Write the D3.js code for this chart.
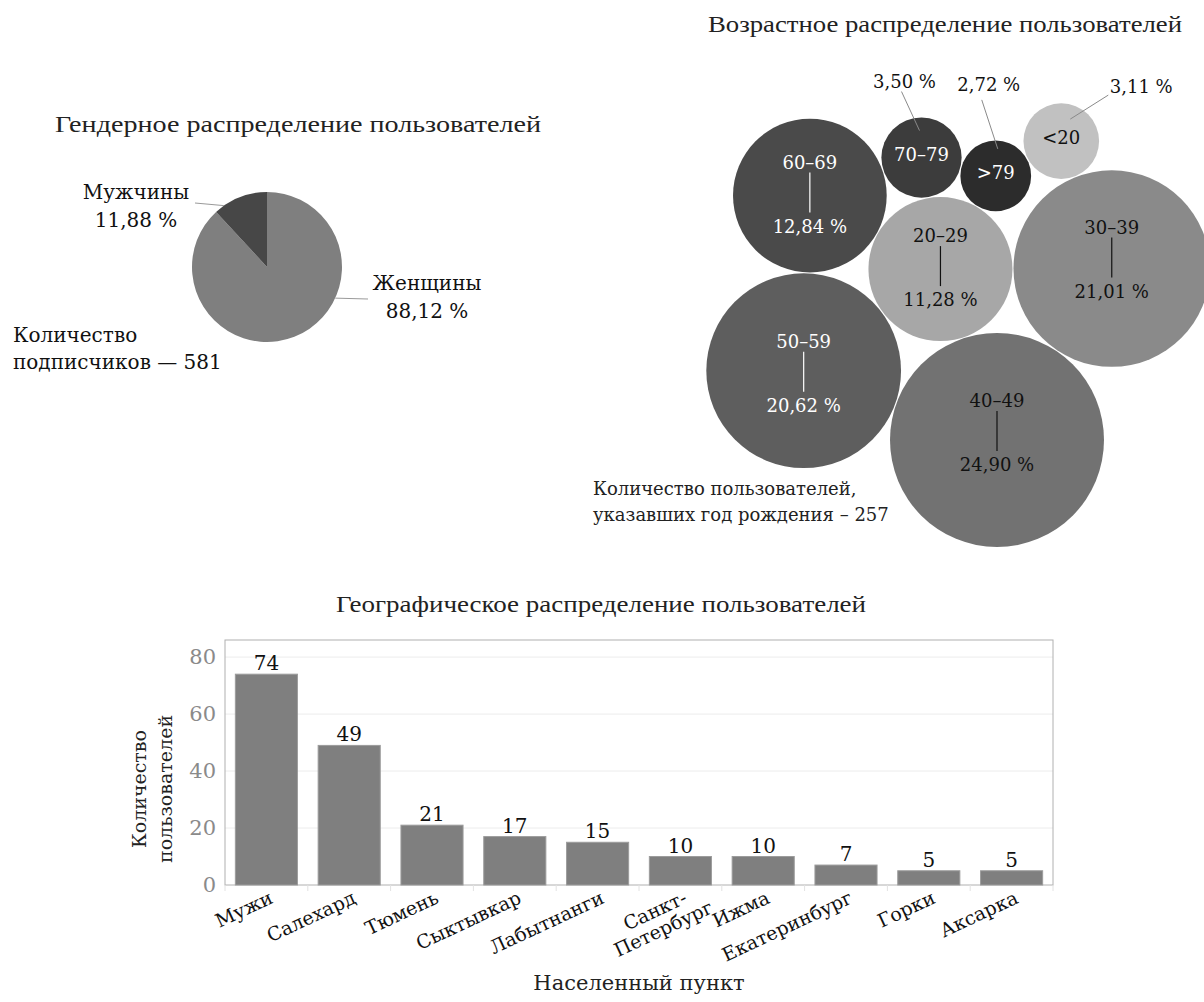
<!DOCTYPE html>
<html>
<head>
<meta charset="utf-8">
<script src="https://cdn.jsdelivr.net/npm/d3@7"></script>
<style>
  body { margin: 0; background: #fff; }
  svg { display: block; }
</style>
</head>
<body>
<svg id="chart" width="1204" height="1002"></svg>
<script>
// ---- data ----
const genderLabels = ["Женщины", "Мужчины"];
const genderShares = [88.12, 11.88];
const subscriberCount = 581;

const ageGroups = ["40–49", "30–39", "20–29", "50–59", "60–69", "70–79", ">79", "<20"];
const ageShares = [24.90, 21.01, 11.28, 20.62, 12.84, 3.50, 2.72, 3.11];
const ageRespondents = 257;

const cities = ["Мужи", "Салехард", "Тюмень", "Сыктывкар", "Лабытнанги", "Санкт-Петербург", "Ижма", "Екатеринбург", "Горки", "Аксарка"];
const cityUsers = [74, 49, 21, 17, 15, 10, 10, 7, 5, 5];
const yTicks = [0, 20, 40, 60, 80];

// ---- shared helpers ----
const ru = d3.formatLocale({ decimal: ",", thousands: "\u00a0", grouping: [3], currency: ["", " ₽"] });
const pct = v => ru.format(".2f")(v) + " %";
const SERIF = "'DejaVu Serif', Georgia, serif";
const TITLE = "'Liberation Serif', 'Times New Roman', serif";

const svg = d3.select("#chart");
svg.append("rect").attr("width", 1204).attr("height", 1002).attr("fill", "#fff");

function title(text, x, y, width) {
  svg.append("text")
    .attr("x", x).attr("y", y)
    .attr("font-family", TITLE).attr("font-size", 24).attr("fill", "#222")
    .attr("textLength", width).attr("lengthAdjust", "spacingAndGlyphs")
    .text(text);
}

// ================= gender pie =================
title("Гендерное распределение пользователей", 55, 132, 486);
{
  const cx = 267, cy = 267, r = 75;
  const g = svg.append("g").attr("transform", `translate(${cx},${cy})`);
  const pieData = d3.pie().sort(null)(genderShares);
  const arc = d3.arc().innerRadius(0).outerRadius(r);
  const fills = ["#7f7f7f", "#474747"];
  g.selectAll("path").data(pieData).join("path")
    .attr("d", arc).attr("fill", (d, i) => fills[i]);

  // callouts: where on the slice the leader meets the rim, leader end, label centre
  const callouts = [
    { rimAt: 0.361, leadTo: [101, 32], label: [160, 23] },
    { rimAt: 0.18, leadTo: [-72, -64], label: [-131, -68] }
  ];
  pieData.forEach((d, i) => {
    const c = callouts[i];
    const a = d.startAngle + c.rimAt * (d.endAngle - d.startAngle);
    const p = d3.pointRadial(a, r);
    g.append("line")
      .attr("x1", p[0]).attr("y1", p[1])
      .attr("x2", c.leadTo[0]).attr("y2", c.leadTo[1])
      .attr("stroke", "#9a9a9a").attr("stroke-width", 1);
    const t = g.append("text")
      .attr("font-family", SERIF).attr("font-size", 20).attr("fill", "#111")
      .attr("text-anchor", "middle");
    t.append("tspan").attr("x", c.label[0]).attr("y", c.label[1]).text(genderLabels[i]);
    t.append("tspan").attr("x", c.label[0]).attr("dy", 28).text(pct(genderShares[i]));
  });

  const note = svg.append("text")
    .attr("font-family", SERIF).attr("font-size", 20).attr("fill", "#111");
  note.append("tspan").attr("x", 13).attr("y", 342).text("Количество");
  note.append("tspan").attr("x", 13).attr("dy", 27).text(`подписчиков — ${subscriberCount}`);
}

// ================= age bubbles =================
title("Возрастное распределение пользователей", 708, 32, 474);
{
  const rScale = d3.scaleSqrt().domain([0, d3.max(ageShares)]).range([0, 107]);
  const nodes = new Map(ageGroups.map((name, i) => [name, { name, value: ageShares[i], r: rScale(ageShares[i]) }]));
  const pad = 1;

  // each circle is set tangent to the two named ones; side chooses which of the two spots
  const first = nodes.get(ageGroups[0]);
  first.x = 997; first.y = 440;
  const second = nodes.get("30–39");
  const dir = -56.2 * Math.PI / 180;
  second.x = first.x + (first.r + second.r + pad) * Math.cos(dir);
  second.y = first.y + (first.r + second.r + pad) * Math.sin(dir);
  const packing = [
    ["20–29", "40–49", "30–39", -1],
    ["50–59", "40–49", "20–29", -1],
    ["60–69", "20–29", "50–59", 1],
    ["70–79", "20–29", "60–69", 1],
    [">79", "20–29", "70–79", 1],
    ["<20", ">79", "30–39", -1]
  ];
  packing.forEach(([name, an, bn, side]) => {
    const c = nodes.get(name), a = nodes.get(an), b = nodes.get(bn);
    const d1 = a.r + c.r + pad, d2 = b.r + c.r + pad;
    const dx = b.x - a.x, dy = b.y - a.y, D = Math.hypot(dx, dy);
    const ux = dx / D, uy = dy / D;
    const along = (d1 * d1 - d2 * d2 + D * D) / (2 * D);
    const h = Math.sqrt(Math.max(0, d1 * d1 - along * along));
    c.x = a.x + along * ux - side * h * uy;
    c.y = a.y + along * uy + side * h * ux;
  });

  const fills = { "40–49": "#727272", "30–39": "#8a8a8a", "20–29": "#a7a7a7", "50–59": "#5e5e5e",
                  "60–69": "#4a4a4a", "70–79": "#3c3c3c", ">79": "#2c2c2c", "<20": "#c1c1c1" };
  const light = new Set(["50–59", "60–69", "70–79", ">79"]);
  const labelShift = { "40–49": -4, "30–39": -6, "20–29": 2, "50–59": 6, "60–69": 2 };
  // value labels placed outside the small circles: label centre, leader start, leader end
  const outside = {
    "70–79": { label: [-17, -70], from: [-20, -66], to: [-2, -27] },
    ">79": { label: [-7, -85], from: [-14, -76], to: [2, -27] },
    "<20": { label: [80, -48], from: [47, -46], to: [9, -22] }
  };

  const list = Array.from(nodes.values());
  const g = svg.append("g");
  g.selectAll("circle").data(list).join("circle")
    .attr("cx", d => d.x).attr("cy", d => d.y).attr("r", d => d.r)
    .attr("fill", d => fills[d.name]);

  const FS = 18;
  list.forEach(d => {
    const col = light.has(d.name) ? "#fff" : "#111";
    const o = outside[d.name];
    if (o) {
      g.append("text").attr("x", d.x).attr("y", d.y + 3)
        .attr("text-anchor", "middle").attr("font-family", SERIF).attr("font-size", FS)
        .attr("fill", col).text(d.name);
      g.append("line")
        .attr("x1", d.x + o.from[0]).attr("y1", d.y + o.from[1])
        .attr("x2", d.x + o.to[0]).attr("y2", d.y + o.to[1])
        .attr("stroke", "#8a8a8a").attr("stroke-width", 1);
      g.append("text").attr("x", d.x + o.label[0]).attr("y", d.y + o.label[1])
        .attr("text-anchor", "middle").attr("font-family", SERIF).attr("font-size", FS)
        .attr("fill", "#111").text(pct(d.value));
    } else {
      const s = labelShift[d.name] || 0;
      g.append("text").attr("x", d.x).attr("y", d.y - 29 + s)
        .attr("text-anchor", "middle").attr("font-family", SERIF).attr("font-size", FS)
        .attr("fill", col).text(d.name);
      g.append("line")
        .attr("x1", d.x).attr("y1", d.y - 25 + s)
        .attr("x2", d.x).attr("y2", d.y + 15 + s)
        .attr("stroke", col).attr("stroke-width", 1.2);
      g.append("text").attr("x", d.x).attr("y", d.y + 35 + s)
        .attr("text-anchor", "middle").attr("font-family", SERIF).attr("font-size", FS)
        .attr("fill", col).text(pct(d.value));
    }
  });

  const note = svg.append("text")
    .attr("font-family", SERIF).attr("font-size", 18).attr("fill", "#222");
  note.append("tspan").attr("x", 593).attr("y", 495).text("Количество пользователей,");
  note.append("tspan").attr("x", 593).attr("dy", 26).text(`указавших год рождения – ${ageRespondents}`);
}

// ================= city bars =================
title("Географическое распределение пользователей", 336, 612, 530);
{
  const left = 225, right = 1053, top = 640, bottom = 885;
  const x = d3.scaleBand().domain(cities).range([left, right]).paddingInner(0.25).paddingOuter(0.125);
  const y = d3.scaleLinear().domain([0, 86]).range([bottom, top]);
  const g = svg.append("g");

  // grid
  g.selectAll("line.grid").data(yTicks.filter(t => t > 0)).join("line")
    .attr("class", "grid")
    .attr("x1", left).attr("x2", right)
    .attr("y1", d => y(d)).attr("y2", d => y(d))
    .attr("stroke", "#ececec").attr("stroke-width", 1);

  // frame
  g.append("rect").attr("x", left).attr("y", top)
    .attr("width", right - left).attr("height", bottom - top)
    .attr("fill", "none").attr("stroke", "#b0b0b0").attr("stroke-width", 1);

  // category separators under the axis
  g.selectAll("line.sep").data(d3.range(cities.length + 1)).join("line")
    .attr("class", "sep")
    .attr("x1", i => left + i * (right - left) / cities.length)
    .attr("x2", i => left + i * (right - left) / cities.length)
    .attr("y1", bottom).attr("y2", bottom + 6)
    .attr("stroke", "#e2e2e2");

  // y axis labels
  const yAxis = d3.axisLeft(y).tickValues(yTicks).tickSize(0).tickPadding(9);
  const ya = g.append("g").attr("transform", `translate(${left},0)`).call(yAxis);
  ya.select(".domain").remove();
  ya.selectAll("text").attr("font-family", SERIF).attr("font-size", 21).attr("fill", "#8a8a8a");

  // bars
  g.selectAll("rect.bar").data(cities).join("rect")
    .attr("class", "bar")
    .attr("x", d => x(d)).attr("width", x.bandwidth())
    .attr("y", (d, i) => y(cityUsers[i]))
    .attr("height", (d, i) => bottom - y(cityUsers[i]))
    .attr("fill", "#7f7f7f").attr("stroke", "#9c9c9c").attr("stroke-width", 1);

  // value labels
  g.selectAll("text.val").data(cities).join("text")
    .attr("class", "val")
    .attr("x", d => x(d) + x.bandwidth() / 2)
    .attr("y", (d, i) => y(cityUsers[i]) - 4)
    .attr("text-anchor", "middle").attr("font-family", SERIF).attr("font-size", 20).attr("fill", "#111")
    .text((d, i) => cityUsers[i]);

  // rotated category labels (hyphenated names wrap after the hyphen)
  cities.forEach(name => {
    const cut = name.indexOf("-");
    const lines = cut >= 0 ? [name.slice(0, cut + 1), name.slice(cut + 1)] : [name];
    const cxp = x(name) + x.bandwidth() / 2 + 3;
    const t = g.append("text")
      .attr("transform", `translate(${cxp},${bottom + 7}) rotate(-25)`)
      .attr("font-family", SERIF).attr("font-size", 19).attr("fill", "#111");
    const spans = lines.map((ln, k) => t.append("tspan").attr("dy", k === 0 ? "0.6em" : "1.05em").text(ln));
    const w0 = spans[0].node().getComputedTextLength();
    spans.forEach(sp => sp.attr("x", -w0 / 2).attr("text-anchor", "middle"));
  });

  // axis titles
  const yt = svg.append("text")
    .attr("transform", `translate(146,789) rotate(-90)`)
    .attr("text-anchor", "middle").attr("font-family", SERIF).attr("font-size", 19).attr("fill", "#222");
  yt.append("tspan").attr("x", 0).attr("y", 0).text("Количество");
  yt.append("tspan").attr("x", 0).attr("dy", 26).text("пользователей");

  svg.append("text")
    .attr("x", (left + right) / 2).attr("y", 990)
    .attr("text-anchor", "middle").attr("font-family", SERIF).attr("font-size", 21).attr("fill", "#222")
    .text("Населенный пункт");
}
</script>
</body>
</html>
